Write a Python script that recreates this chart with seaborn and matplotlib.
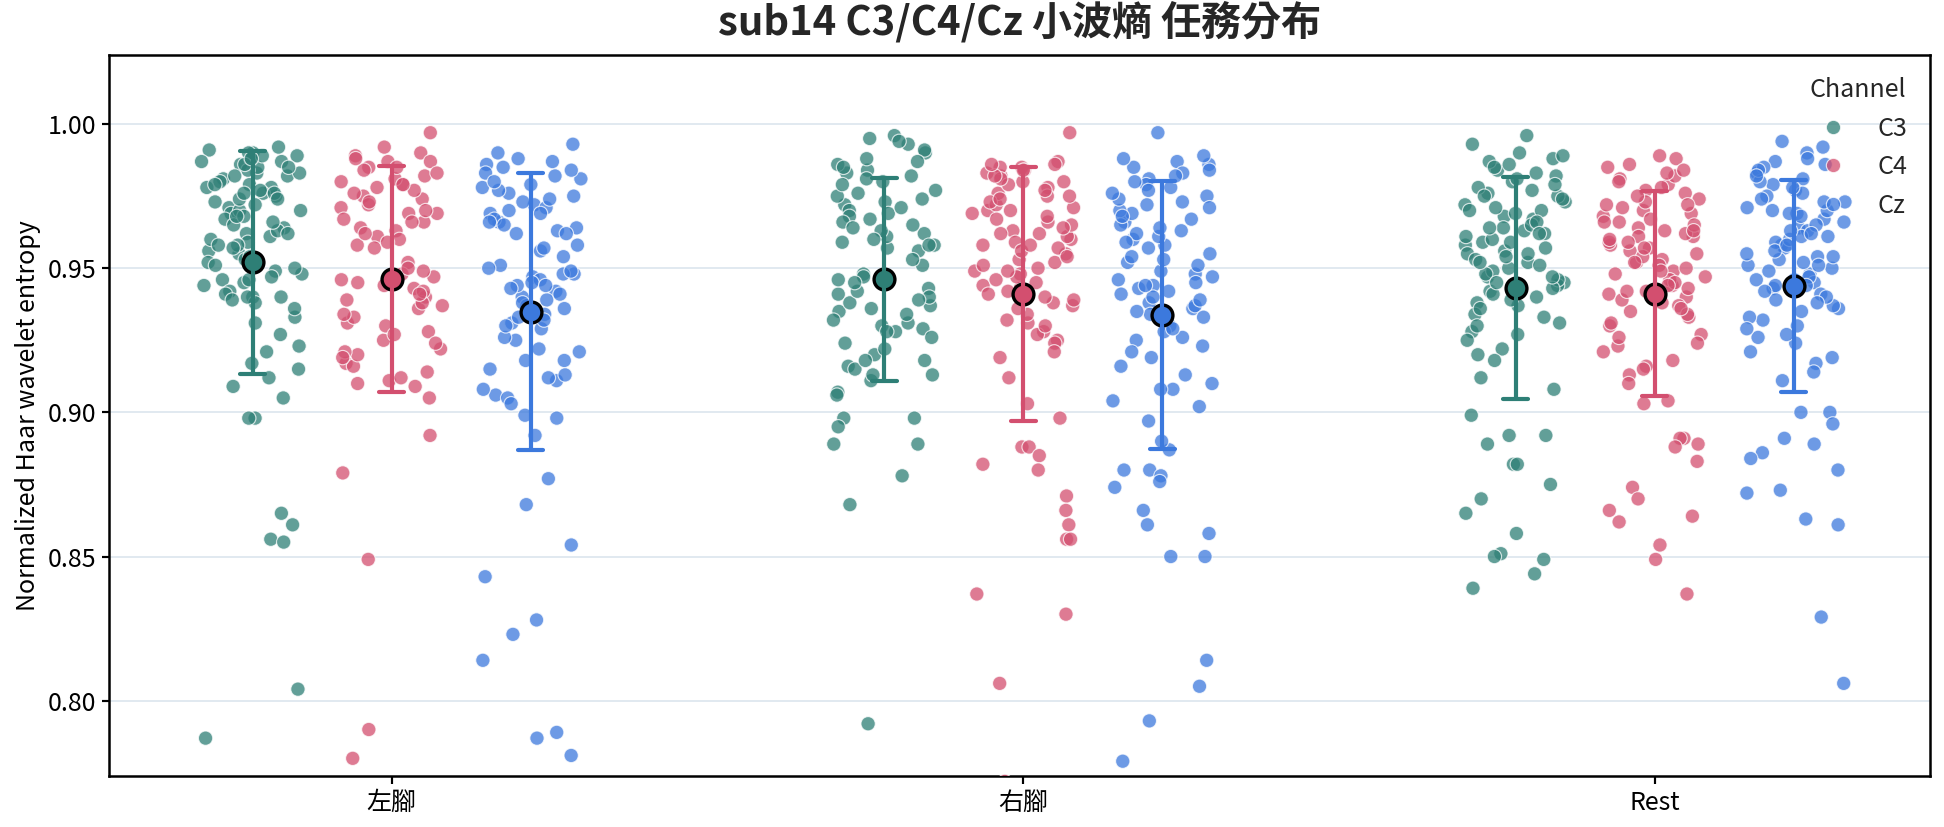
import numpy as np
import pandas as pd
import matplotlib
matplotlib.use("Agg")
import matplotlib.pyplot as plt
import seaborn as sns

tasks = ["左腳", "右腳", "Rest"]
channels = ["C3", "C4", "Cz"]
palette = {"C3": "#2e7f76", "C4": "#d34f6f", "Cz": "#3c79dd"}

c3_left = [0.991, 0.987, 0.962, 0.975, 0.948, 0.983, 0.990, 0.956, 0.971, 0.940,
           0.978, 0.964, 0.986, 0.952, 0.969, 0.933, 0.981, 0.959, 0.989, 0.944,
           0.976, 0.923, 0.967, 0.985, 0.950, 0.973, 0.938, 0.992, 0.961, 0.979,
           0.946, 0.917, 0.970, 0.988, 0.955, 0.982, 0.927, 0.965, 0.977, 0.942,
           0.984, 0.958, 0.912, 0.974, 0.990, 0.949, 0.968, 0.936, 0.980, 0.963,
           0.986, 0.953, 0.921, 0.972, 0.945, 0.987, 0.960, 0.976, 0.931, 0.966,
           0.983, 0.947, 0.978, 0.957, 0.989, 0.941, 0.970, 0.915, 0.985, 0.954,
           0.962, 0.979, 0.909, 0.946, 0.974, 0.988, 0.951, 0.968, 0.982, 0.939,
           0.958, 0.976,
           0.940, 0.940, 0.905, 0.898, 0.898, 0.865, 0.861, 0.856, 0.855, 0.804, 0.787]
c4_left = [0.997, 0.985, 0.911, 0.974, 0.943, 0.989, 0.952, 0.931, 0.978, 0.966,
           0.992, 0.948, 0.909, 0.982, 0.936, 0.971, 0.925, 0.987, 0.917, 0.963,
           0.979, 0.940, 0.969, 0.916, 0.984, 0.950, 0.933, 0.975, 0.960, 0.945,
           0.990, 0.928, 0.967, 0.981, 0.938, 0.922, 0.972, 0.920, 0.987, 0.947,
           0.964, 0.930, 0.977, 0.914, 0.910, 0.969, 0.942, 0.985, 0.958, 0.934,
           0.973, 0.949, 0.921, 0.980, 0.961, 0.939, 0.988, 0.919, 0.927, 0.966,
           0.944, 0.976, 0.957, 0.912, 0.983, 0.937, 0.962, 0.946, 0.970, 0.924,
           0.959, 0.941, 0.905, 0.979,
           0.892, 0.879, 0.849, 0.790, 0.780]
cz_left = [0.993, 0.978, 0.877, 0.986, 0.962, 0.940, 0.990, 0.947, 0.972, 0.931,
           0.982, 0.906, 0.966, 0.925, 0.988, 0.951, 0.975, 0.936, 0.969, 0.944,
           0.985, 0.918, 0.905, 0.979, 0.948, 0.933, 0.971, 0.956, 0.911, 0.983,
           0.942, 0.964, 0.929, 0.976, 0.912, 0.987, 0.939, 0.967, 0.921, 0.958,
           0.973, 0.946, 0.908, 0.981, 0.954, 0.934, 0.963, 0.977, 0.943, 0.926,
           0.969, 0.950, 0.984, 0.937, 0.899, 0.915, 0.974, 0.948, 0.932, 0.965,
           0.941, 0.980, 0.918, 0.922, 0.970, 0.945, 0.957, 0.930, 0.962, 0.938,
           0.949, 0.913, 0.966, 0.944,
           0.903, 0.898, 0.892, 0.868, 0.854, 0.843, 0.828, 0.823, 0.814, 0.789, 0.787, 0.781]
c3_right = [0.996, 0.984, 0.958, 0.972, 0.941, 0.993, 0.911, 0.967, 0.929, 0.981,
            0.962, 0.994, 0.988, 0.935, 0.976, 0.913, 0.920, 0.970, 0.948, 0.990,
            0.938, 0.965, 0.983, 0.926, 0.957, 0.975, 0.943, 0.995, 0.931, 0.961,
            0.979, 0.898, 0.916, 0.968, 0.946, 0.986, 0.937, 0.959, 0.973, 0.924,
            0.915, 0.982, 0.940, 0.963, 0.932, 0.977, 0.907, 0.913, 0.969, 0.991,
            0.987, 0.928, 0.960, 0.939, 0.974, 0.951, 0.934, 0.966, 0.947, 0.980,
            0.922, 0.956, 0.942, 0.971, 0.936, 0.953, 0.964, 0.930, 0.985, 0.945,
            0.958, 0.918,
            0.918, 0.928, 0.906, 0.898, 0.895, 0.889, 0.889, 0.878, 0.868, 0.792]
c4_right = [0.997, 0.985, 0.962, 0.978, 0.944, 0.987, 0.955, 0.970, 0.931, 0.982,
            0.966, 0.949, 0.984, 0.938, 0.975, 0.958, 0.925, 0.972, 0.952, 0.980,
            0.941, 0.968, 0.986, 0.928, 0.960, 0.976, 0.946, 0.983, 0.934, 0.963,
            0.979, 0.953, 0.919, 0.969, 0.948, 0.985, 0.936, 0.961, 0.973, 0.927,
            0.950, 0.981, 0.943, 0.965, 0.932, 0.977, 0.957, 0.912, 0.971, 0.945,
            0.984, 0.930, 0.959, 0.940, 0.974, 0.954, 0.903, 0.967, 0.947, 0.980,
            0.924, 0.956, 0.942, 0.970, 0.937, 0.951, 0.964, 0.898, 0.982, 0.949,
            0.958, 0.921, 0.975, 0.939, 0.962, 0.986,
            0.888, 0.888, 0.885, 0.882, 0.880, 0.871, 0.866, 0.861, 0.856, 0.856,
            0.837, 0.830, 0.806, 0.772]
cz_right = [0.997, 0.986, 0.908, 0.972, 0.938, 0.989, 0.948, 0.966, 0.925, 0.981,
            0.960, 0.942, 0.985, 0.930, 0.975, 0.951, 0.916, 0.969, 0.944, 0.987,
            0.934, 0.962, 0.979, 0.921, 0.902, 0.973, 0.940, 0.983, 0.928, 0.958,
            0.977, 0.949, 0.910, 0.967, 0.945, 0.988, 0.932, 0.957, 0.970, 0.919,
            0.946, 0.980, 0.936, 0.963, 0.926, 0.974, 0.952, 0.904, 0.965, 0.941,
            0.984, 0.923, 0.954, 0.935, 0.971, 0.887, 0.897, 0.961, 0.943, 0.978,
            0.913, 0.953, 0.937, 0.968, 0.929, 0.947, 0.959, 0.890, 0.982, 0.944,
            0.955, 0.908, 0.964, 0.933, 0.976, 0.939,
            0.880, 0.880, 0.878, 0.876, 0.874, 0.866, 0.861, 0.858, 0.850, 0.850,
            0.814, 0.805, 0.793, 0.779]
c3_rest = [0.996, 0.984, 0.958, 0.973, 0.945, 0.990, 0.952, 0.967, 0.931, 0.980,
           0.963, 0.947, 0.987, 0.937, 0.976, 0.955, 0.922, 0.970, 0.949, 0.988,
           0.940, 0.965, 0.982, 0.928, 0.959, 0.975, 0.944, 0.993, 0.933, 0.961,
           0.978, 0.953, 0.918, 0.968, 0.946, 0.986, 0.938, 0.960, 0.972, 0.925,
           0.950, 0.981, 0.942, 0.964, 0.934, 0.977, 0.956, 0.912, 0.969, 0.948,
           0.985, 0.930, 0.962, 0.941, 0.974, 0.954, 0.936, 0.966, 0.951, 0.979,
           0.920, 0.957, 0.943, 0.971, 0.939, 0.955, 0.964, 0.908, 0.983, 0.947,
           0.959, 0.927, 0.975, 0.945, 0.962, 0.989, 0.952, 0.970,
           0.899, 0.892, 0.892, 0.889, 0.882, 0.882, 0.875, 0.870, 0.865, 0.858,
           0.851, 0.850, 0.849, 0.844, 0.839]
c4_rest = [0.989, 0.976, 0.955, 0.968, 0.940, 0.985, 0.949, 0.963, 0.927, 0.979,
           0.958, 0.944, 0.986, 0.933, 0.972, 0.952, 0.918, 0.966, 0.946, 0.982,
           0.937, 0.961, 0.977, 0.923, 0.956, 0.970, 0.941, 0.988, 0.930, 0.959,
           0.974, 0.950, 0.913, 0.964, 0.943, 0.983, 0.935, 0.957, 0.969, 0.921,
           0.947, 0.978, 0.939, 0.962, 0.931, 0.973, 0.953, 0.910, 0.965, 0.945,
           0.981, 0.926, 0.960, 0.938, 0.971, 0.951, 0.934, 0.963, 0.948, 0.975,
           0.916, 0.954, 0.942, 0.967, 0.936, 0.952, 0.961, 0.915, 0.980, 0.944,
           0.957, 0.924, 0.972, 0.942, 0.959, 0.984, 0.949, 0.966,
           0.904, 0.903, 0.891, 0.891, 0.889, 0.888, 0.883, 0.874, 0.870, 0.866,
           0.864, 0.862, 0.854, 0.849, 0.837]
cz_rest = [0.994, 0.983, 0.958, 0.971, 0.943, 0.990, 0.951, 0.966, 0.930, 0.979,
           0.961, 0.946, 0.987, 0.936, 0.975, 0.954, 0.921, 0.969, 0.948, 0.985,
           0.939, 0.964, 0.981, 0.926, 0.957, 0.973, 0.944, 0.992, 0.932, 0.960,
           0.977, 0.952, 0.917, 0.967, 0.945, 0.986, 0.937, 0.959, 0.970, 0.924,
           0.949, 0.980, 0.941, 0.963, 0.933, 0.976, 0.955, 0.911, 0.968, 0.947,
           0.984, 0.929, 0.961, 0.940, 0.973, 0.953, 0.935, 0.965, 0.950, 0.978,
           0.919, 0.956, 0.942, 0.970, 0.938, 0.954, 0.963, 0.914, 0.982, 0.946,
           0.958, 0.927, 0.974, 0.944, 0.962, 0.988, 0.951, 0.969,
           0.900, 0.900, 0.896, 0.891, 0.889, 0.886, 0.884, 0.880, 0.873, 0.872,
           0.863, 0.861, 0.829, 0.806]

values = {
    ("左腳", "C3"): c3_left, ("左腳", "C4"): c4_left, ("左腳", "Cz"): cz_left,
    ("右腳", "C3"): c3_right, ("右腳", "C4"): c4_right, ("右腳", "Cz"): cz_right,
    ("Rest", "C3"): c3_rest, ("Rest", "C4"): c4_rest, ("Rest", "Cz"): cz_rest,
}

# layout: group centre + channel offset
offset = 0.22
rows = []
for ti, t in enumerate(tasks):
    for ci, c in enumerate(channels):
        for v in values[(t, c)]:
            rows.append({"task": t, "Channel": c, "pos": ti + (ci - 1) * offset, "value": v})
df = pd.DataFrame(rows)

sns.set_theme(style="ticks")
plt.rcParams["font.family"] = ["Noto Sans CJK TC", "DejaVu Sans"]

fig, ax = plt.subplots(figsize=(16.2, 6.8917), dpi=120)
fig.subplots_adjust(left=0.0563, right=0.9928, bottom=0.0614, top=0.934)

np.random.seed(7)
sns.stripplot(data=df, x="pos", y="value", hue="Channel", hue_order=channels,
              palette=palette, native_scale=True, jitter=0.37, size=8.6,
              alpha=0.75, edgecolor="white", linewidth=0.7, ax=ax)
sns.pointplot(data=df, x="pos", y="value", hue="Channel", hue_order=channels,
              palette=palette, native_scale=True, errorbar="sd", capsize=0.18,
              linestyle="none", markersize=12.5, markeredgecolor="black",
              markeredgewidth=2.0, err_kws={"linewidth": 2.5}, legend=False,
              ax=ax, zorder=4)

ax.set_xlim(-0.447, 2.436)
ax.set_ylim(0.7738, 1.0241)
ax.set_xticks(range(len(tasks)))
ax.set_xticklabels(tasks)
ax.set_yticks([0.80, 0.85, 0.90, 0.95, 1.00])
ax.set_yticklabels([f"{v:.2f}" for v in [0.80, 0.85, 0.90, 0.95, 1.00]])
ax.tick_params(axis="both", labelsize=15, length=4.5, width=1.3, color="black", labelcolor="black")
ax.yaxis.grid(True, color="#dbe5ee", linewidth=1.0)
ax.xaxis.grid(False)
ax.set_axisbelow(True)
for s in ax.spines.values():
    s.set_visible(True)
    s.set_color("black")
    s.set_linewidth(1.5)
ax.set_xlabel("")
ax.set_ylabel("Normalized Haar wavelet entropy", fontsize=15, color="black")
ax.set_title("sub14 C3/C4/Cz 小波熵 任務分布", fontsize=24, fontweight="bold", pad=12)

sns.move_legend(ax, "upper right", frameon=False, fontsize=15, title_fontsize=15, title="Channel")

fig.savefig("out.png", dpi=120)
